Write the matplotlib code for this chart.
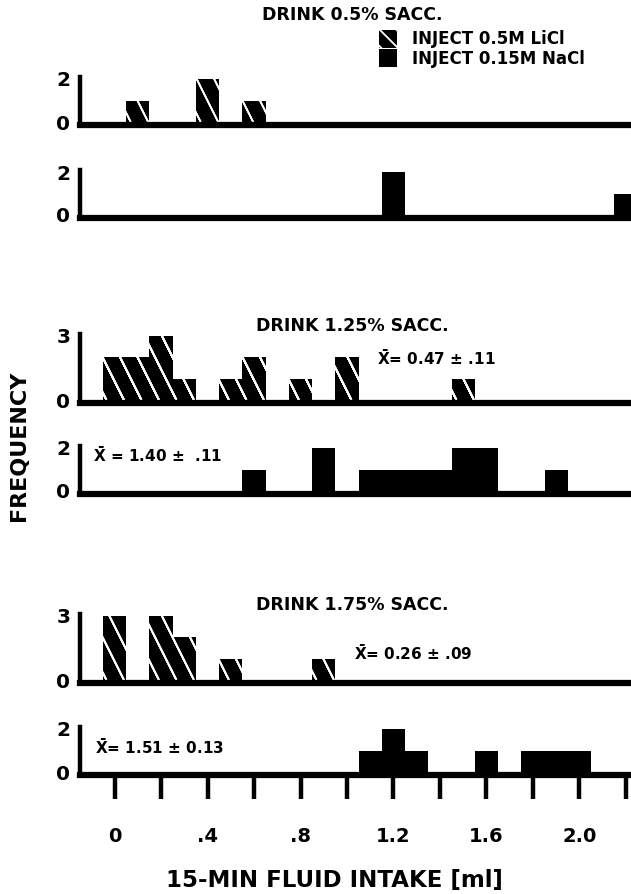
import numpy as np
import matplotlib
matplotlib.use("Agg")
import matplotlib.pyplot as plt
from matplotlib.collections import LineCollection
from matplotlib.patches import Patch

plt.rcParams['font.family'] = ['DejaVu Sans']
plt.rcParams['font.weight'] = 'bold'
plt.rcParams['hatch.linewidth'] = 1.3

# bin centres (ml) and counts, bin width 0.1 ml
licl_05_x = [0.1, 0.4, 0.6]
licl_05_n = [1, 2, 1]
nacl_05_x = [1.2, 2.2]
nacl_05_n = [2, 1]

licl_125_x = [0.0, 0.1, 0.2, 0.3, 0.5, 0.6, 0.8, 1.0, 1.5]
licl_125_n = [2, 2, 3, 1, 1, 2, 1, 2, 1]
nacl_125_x = [0.6, 0.9, 1.1, 1.2, 1.3, 1.4, 1.5, 1.6, 1.9]
nacl_125_n = [1, 2, 1, 1, 1, 1, 2, 2, 1]

licl_175_x = [0.0, 0.2, 0.3, 0.5, 0.9]
licl_175_n = [3, 3, 2, 1, 1]
nacl_175_x = [1.1, 1.2, 1.3, 1.6, 1.8, 1.9, 2.0]
nacl_175_n = [1, 2, 1, 1, 1, 1, 1]

titles = ["DRINK 0.5% SACC.", "DRINK 1.25% SACC.", "DRINK 1.75% SACC."]
means = [None, r"$\mathbf{\bar{X}}$= 0.47 ± .11", r"$\mathbf{\bar{X}}$= 0.26 ± .09"]
means_nacl = [None, r"$\mathbf{\bar{X}}$ = 1.40 ±  .11", r"$\mathbf{\bar{X}}$= 1.51 ± 0.13"]
xtick_labels = ["0", "", ".4", "", ".8", "", "1.2", "", "1.6", "", "2.0", ""]
legend_labels = ["INJECT 0.5M LiCl", "INJECT 0.15M NaCl"]

W, H = 631, 894
UNIT = 21.5          # pixels per count
X0 = 80              # left spine, px
XMIN, XMAX = -0.149, 2.222
PX_PER_ML = (W - X0) / (XMAX - XMIN)
BIN = 0.1

# stripe look of the LiCl bars (in pixels)
STRIPE_GAP = 17.5
STRIPE_LEAN = 0.5    # dx/dy of the white lines

fig = plt.figure(figsize=(W / 100, H / 100), dpi=100)


def px(x, y):
    return x / W, 1 - y / H


def add_panel(baseline, ymax):
    top = baseline - (ymax + 0.08) * UNIT
    bot = baseline + 0.15 * UNIT
    ax = fig.add_axes([X0 / W, 1 - bot / H, 1 - X0 / W, (bot - top) / H])
    ax.set_xlim(XMIN, XMAX)
    ax.set_ylim(-0.15, ymax + 0.08)
    ax.spines['top'].set_visible(False)
    ax.spines['right'].set_visible(False)
    ax.spines['left'].set_linewidth(3.2)
    ax.spines['bottom'].set_linewidth(4.5)
    ax.set_yticks([0, ymax])
    ax.set_yticklabels(["0", str(ymax)], fontweight='bold')
    ax.tick_params(axis='y', length=0, pad=7, labelsize=14.5)
    ax.set_xticks([])
    ax.patch.set_alpha(0)
    return ax


def licl_bars(ax, x, n):
    bars = ax.bar(x, n, width=BIN, color='black', linewidth=0)
    # white slanted stripes, clipped to each bar
    gap = STRIPE_GAP / PX_PER_ML
    k = STRIPE_LEAN * UNIT / PX_PER_ML
    ytop = max(n) + 0.5
    segs = [[(c, ytop), (c + k * ytop, 0)] for c in np.arange(XMIN - 0.5, XMAX + 0.5, gap)]
    for b in bars:
        lc = LineCollection(segs, colors='white', linewidths=1.2, transform=ax.transData)
        lc.set_clip_path(b)
        ax.add_collection(lc, autolim=False)
    return bars


def nacl_bars(ax, x, n):
    return ax.bar(x, n, width=BIN, color='black', linewidth=0)


# panel pairs: LiCl on top, NaCl below
ax1 = add_panel(122, 2)
licl_bars(ax1, licl_05_x, licl_05_n)
ax2 = add_panel(215, 2)
nacl_bars(ax2, nacl_05_x, nacl_05_n)

ax3 = add_panel(400, 3)
licl_bars(ax3, licl_125_x, licl_125_n)
ax4 = add_panel(491, 2)
nacl_bars(ax4, nacl_125_x, nacl_125_n)

ax5 = add_panel(680, 3)
licl_bars(ax5, licl_175_x, licl_175_n)
ax6 = add_panel(772, 2)
nacl_bars(ax6, nacl_175_x, nacl_175_n)

ax6.set_xticks(np.arange(0, 2.21, 0.2))
ax6.set_xticklabels(xtick_labels, fontweight='bold')
ax6.tick_params(axis='x', length=17, width=3.2, pad=20, labelsize=14, direction='out')

# titles
for t, y in zip(titles, [15, 326, 605]):
    fig.text(*px(352, y), t, ha='center', va='center', fontsize=12.5, fontweight='bold')

# means
fig.text(*px(377, 358), means[1], ha='left', va='center', fontsize=11, fontweight='bold')
fig.text(*px(93, 455), means_nacl[1], ha='left', va='center', fontsize=11, fontweight='bold')
fig.text(*px(354, 653), means[2], ha='left', va='center', fontsize=11, fontweight='bold')
fig.text(*px(95, 747), means_nacl[2], ha='left', va='center', fontsize=11, fontweight='bold')

# axis titles
fig.text(*px(19, 446), "FREQUENCY", rotation=90, ha='center', va='center',
         fontsize=16, fontweight='bold')
fig.text(*px(334, 880), "15-MIN FLUID INTAKE [ml]", ha='center', va='center',
         fontsize=16.5, fontweight='bold')

h1 = Patch(facecolor='black', edgecolor='white', linewidth=0, hatch='\\\\')
h2 = Patch(facecolor='black', linewidth=0)
fig.legend([h1, h2], legend_labels, loc='upper left', bbox_to_anchor=px(379, 30),
           frameon=False, handlelength=1.1, handleheight=1.25,
           handletextpad=0.9, labelspacing=0.05, borderpad=0, borderaxespad=0,
           prop={'weight': 'bold', 'size': 12})

fig.savefig("out.png", dpi=100)
